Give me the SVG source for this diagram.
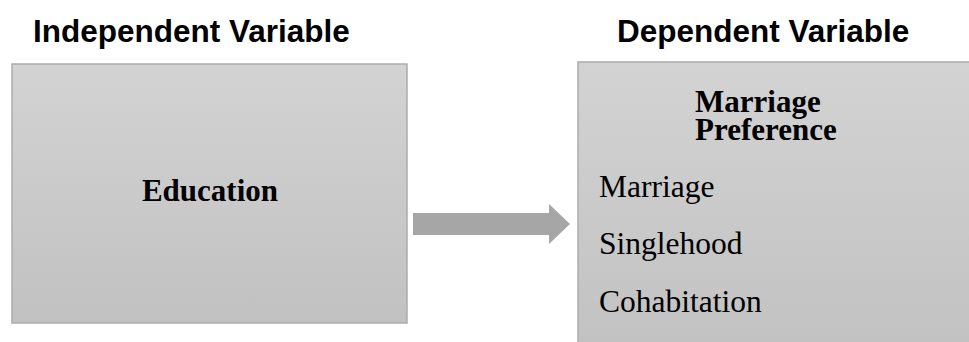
<svg xmlns="http://www.w3.org/2000/svg" width="969" height="342" viewBox="0 0 969 342">
  <style>
    .head { font-family: "Liberation Sans", Arial, sans-serif; font-weight: bold; font-size: 31.5px; fill: #000; }
    .title { font-family: "Liberation Serif", "Times New Roman", serif; font-weight: bold; font-size: 31px; fill: #000; }
    .item { font-family: "Liberation Serif", "Times New Roman", serif; font-size: 31.5px; fill: #000; }
    .box { fill: url(#boxFill); stroke: #acacac; stroke-width: 1.5; }
    .arrow { fill: #a6a6a6; }
  </style>
  <defs>
    <linearGradient id="boxFill" x1="0" y1="0" x2="0" y2="1">
      <stop offset="0" stop-color="#d3d3d3"/>
      <stop offset="1" stop-color="#c1c1c1"/>
    </linearGradient>
  </defs>

  <!-- column headings -->
  <text class="head" x="33" y="42">Independent Variable</text>
  <text class="head" x="617" y="42">Dependent Variable</text>

  <!-- independent variable -->
  <g id="education">
    <rect class="box" x="12" y="64" width="395" height="259"/>
    <text class="title" x="210" y="201" text-anchor="middle">Education</text>
  </g>

  <!-- dependent variable -->
  <g id="marriage-preference">
    <rect class="box" x="578" y="62" width="400" height="300"/>
    <text class="title" x="695" y="112">Marriage</text>
    <text class="title" x="695" y="140">Preference</text>
    <text class="item" x="599" y="197">Marriage</text>
    <text class="item" x="599" y="254">Singlehood</text>
    <text class="item" x="599" y="312">Cohabitation</text>
  </g>

  <!-- block arrow between the variables -->
  <g id="connectors">
    <polygon class="arrow" points="413,213 549,213 549,204 570,224 549,244 549,235 413,235"/>
  </g>
</svg>
